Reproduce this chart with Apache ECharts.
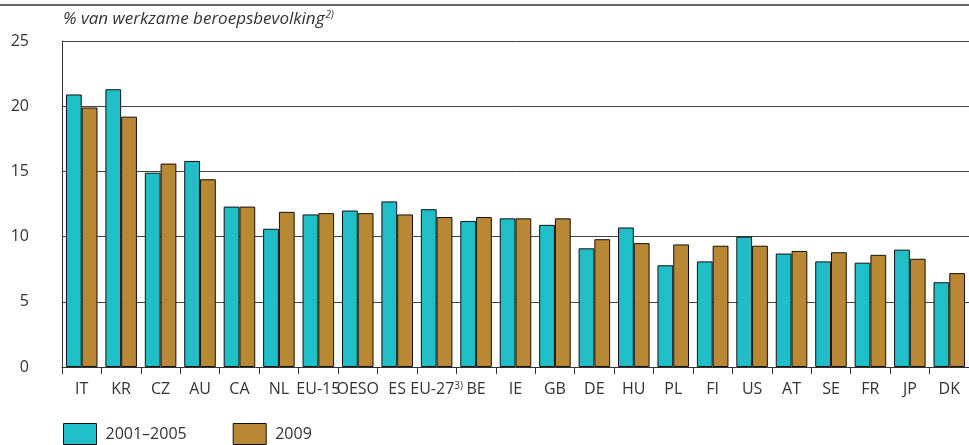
<!DOCTYPE html>
<html>
<head>
<meta charset="utf-8">
<script src="https://cdn.jsdelivr.net/npm/echarts@6/dist/echarts.min.js"></script>
<style>
  html, body { margin: 0; padding: 0; background: #fff; }
  #chart { width: 969px; height: 445px; }
</style>
</head>
<body>
<div id="chart"></div>
<script>
// Landen / groepen
const categories = ['IT', 'KR', 'CZ', 'AU', 'CA', 'NL', 'EU-15', 'OESO', 'ES', 'EU-27', 'BE', 'IE',
  'GB', 'DE', 'HU', 'PL', 'FI', 'US', 'AT', 'SE', 'FR', 'JP', 'DK'];

// % van werkzame beroepsbevolking
const period2001_2005 = [20.9, 21.3, 14.9, 15.8, 12.3, 10.6, 11.7, 12.0, 12.7, 12.1, 11.2, 11.4,
  10.9, 9.1, 10.7, 7.8, 8.1, 10.0, 8.7, 8.1, 8.0, 9.0, 6.5];
const year2009 = [19.9, 19.2, 15.6, 14.4, 12.3, 11.9, 11.8, 11.8, 11.7, 11.5, 11.5, 11.4,
  11.4, 9.8, 9.5, 9.4, 9.3, 9.3, 8.9, 8.8, 8.6, 8.3, 7.2];

const seriesNames = ['2001–2005', '2009'];
const yTicks = [0, 5, 10, 15, 20, 25];

// Categorieën met een voetnoot
const footnotes = { 'EU-27': '3)' };

const FONT = "'Open Sans', 'Noto Sans', sans-serif";
const TEXT = '#333';

const chart = echarts.init(document.getElementById('chart'), null, { renderer: 'canvas' });

chart.setOption({
  animation: false,
  backgroundColor: '#fff',
  textStyle: { fontFamily: FONT, color: TEXT },
  title: {
    text: '{t|% van werkzame beroepsbevolking}{s|2)}',
    left: 58,
    top: 5,
    textStyle: {
      fontWeight: 'normal',
      rich: {
        t: { fontFamily: FONT, fontStyle: 'italic', fontWeight: 'normal', fontSize: 17, color: TEXT },
        s: { fontFamily: FONT, fontStyle: 'italic', fontWeight: 'normal', fontSize: 10, color: TEXT, verticalAlign: 'top', padding: [0, 0, 9, 1] }
      }
    }
  },
  graphic: [
    {
      type: 'line',
      shape: { x1: 0, y1: 5, x2: 969, y2: 5 },
      style: { stroke: '#333', lineWidth: 1.5 }
    }
  ],
  legend: {
    left: 63,
    top: 423,
    padding: 0,
    itemWidth: 33,
    itemHeight: 21,
    itemGap: 46,
    icon: 'rect',
    itemStyle: { borderWidth: 1 },
    textStyle: { fontFamily: FONT, fontSize: 16, color: TEXT, padding: [0, 0, 0, 4] },
    data: seriesNames
  },
  grid: {
    left: 62,
    top: 41,
    width: 913,
    height: 326,
    containLabel: false
  },
  xAxis: {
    type: 'category',
    data: categories,
    axisLine: { show: true, lineStyle: { color: '#333', width: 1 } },
    axisTick: { show: true, length: 7, lineStyle: { color: '#333' } },
    axisLabel: {
      interval: 0,
      margin: 14,
      fontFamily: FONT,
      fontSize: 16,
      color: TEXT,
      formatter: function (v) {
        return footnotes[v] ? v + '{s|' + footnotes[v] + '}' : v;
      },
      rich: {
        s: { fontFamily: FONT, fontSize: 10, color: TEXT, verticalAlign: 'top', padding: [0, 0, 7, 0] }
      }
    }
  },
  yAxis: {
    type: 'value',
    min: yTicks[0],
    max: yTicks[yTicks.length - 1],
    interval: 5,
    axisLine: { show: true, lineStyle: { color: '#333', width: 1 } },
    axisTick: { show: false },
    axisLabel: { margin: 33, fontFamily: FONT, fontSize: 16, color: TEXT },
    splitLine: { show: true, lineStyle: { color: '#444', width: 1 } }
  },
  series: [
    {
      name: seriesNames[0],
      type: 'bar',
      data: period2001_2005,
      barGap: '0%',
      barCategoryGap: '20%',
      itemStyle: { color: '#20BEC6', borderColor: '#111', borderWidth: 1 }
    },
    {
      name: seriesNames[1],
      type: 'bar',
      data: year2009,
      barGap: '0%',
      barCategoryGap: '20%',
      itemStyle: { color: '#B98834', borderColor: '#111', borderWidth: 1 }
    }
  ]
});
</script>
</body>
</html>
